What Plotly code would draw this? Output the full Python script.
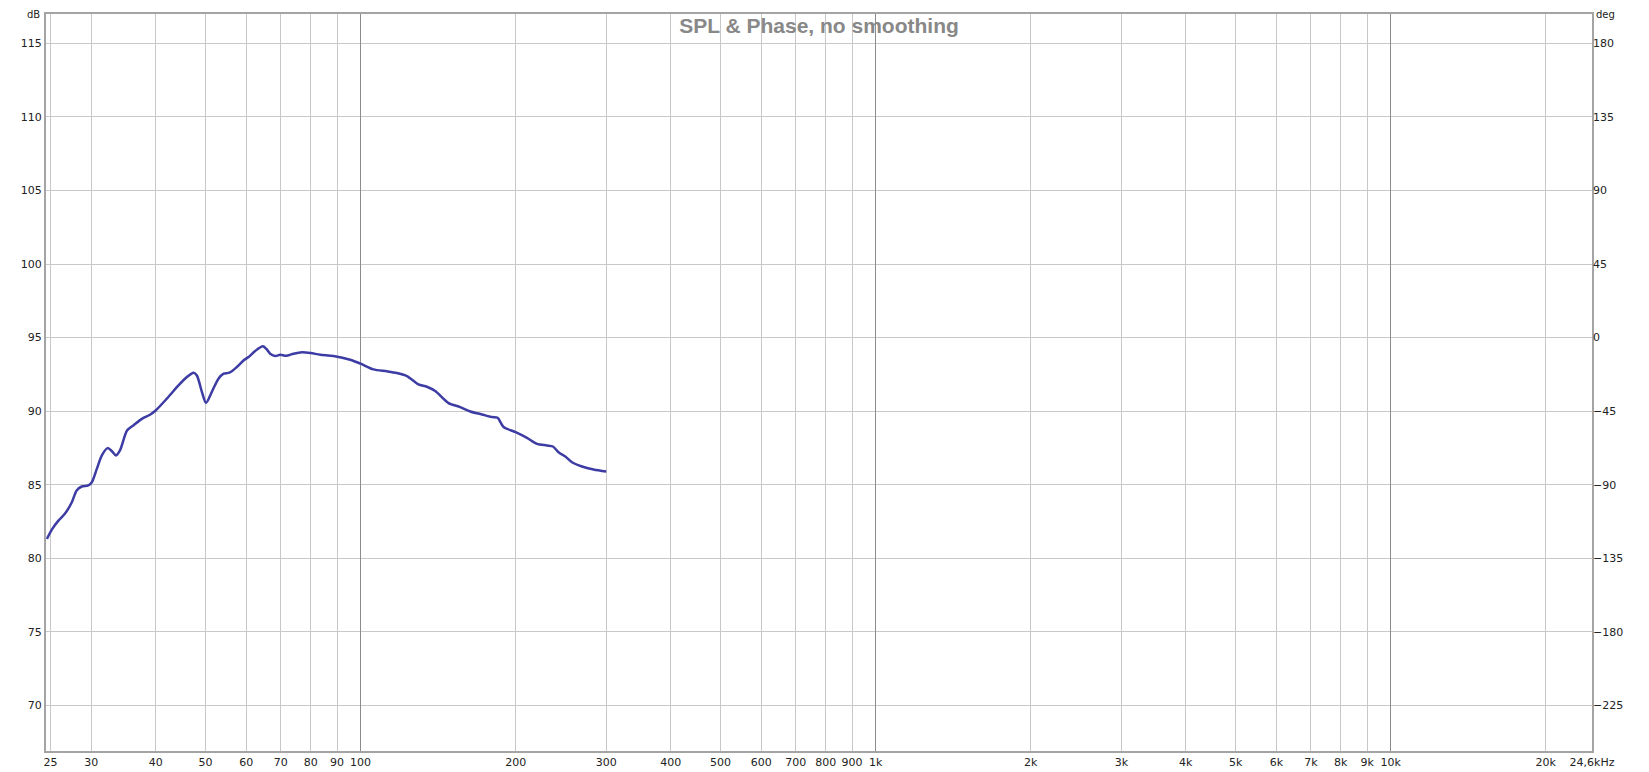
import math
import plotly.graph_objects as go

# ---- data ----
freq_hz = [24.6, 25.2, 25.9, 26.7, 27.5, 28.1, 28.75, 29.6, 30.07, 30.75, 31.45, 32.25,
           32.9, 33.5, 34.1, 35.2, 36.2, 37.6, 39.0, 40.0, 42.05, 44.3, 46.0, 47.4,
           48.1, 49.2, 50.1, 51.4, 52.97, 54.2, 55.65, 57.5, 59.25, 60.6, 62.4, 64.6,
           65.55, 66.75, 68.3, 69.8, 71.7, 74.1, 77.0, 80.0, 83.5, 88.6, 95.45, 100.0,
           105.9, 112.5, 117.6, 123.0, 129.5, 134.5, 139.6, 148.2, 156.1, 163.3, 172.0,
           179.9, 184.5, 189.5, 200.0, 210.4, 220.0, 230.0, 236.3, 242.3, 249.7, 257.3,
           269.1, 283.4, 300.0]
spl_db = [81.32, 82.0, 82.56, 83.06, 83.81, 84.61, 84.88, 84.95, 85.17, 86.08, 86.99, 87.49,
          87.28, 86.99, 87.33, 88.69, 89.03, 89.48, 89.76, 90.05, 90.85, 91.75, 92.32, 92.62,
          92.43, 91.3, 90.57, 91.3, 92.21, 92.55, 92.62, 93.0, 93.45, 93.68, 94.09, 94.41,
          94.25, 93.91, 93.75, 93.84, 93.77, 93.91, 94.0, 93.95, 93.84, 93.75, 93.5, 93.23,
          92.84, 92.71, 92.59, 92.39, 91.82, 91.66, 91.37, 90.55, 90.28, 89.98, 89.78,
          89.6, 89.55, 88.92, 88.58, 88.19, 87.78, 87.67, 87.6, 87.21, 86.92, 86.53,
          86.24, 86.04, 85.9]

x_tick_vals = [25, 30, 40, 50, 60, 70, 80, 90, 100, 200, 300, 400, 500, 600, 700, 800, 900,
               1000, 2000, 3000, 4000, 5000, 6000, 7000, 8000, 9000, 10000, 20000, 24600]
x_tick_text = ["25", "30", "40", "50", "60", "70", "80", "90", "100", "200", "300", "400",
               "500", "600", "700", "800", "900", "1k", "2k", "3k", "4k", "5k", "6k", "7k",
               "8k", "9k", "10k", "20k", "24,6kHz"]
decade_vals = [100, 1000, 10000]
db_ticks = [70, 75, 80, 85, 90, 95, 100, 105, 110, 115]
deg_ticks = [-225, -180, -135, -90, -45, 0, 45, 90, 135, 180]

x_range = [24.5, 24600]
db_range = [66.9, 117.0]
deg_range = [(db_range[0] - 95) * 9, (db_range[1] - 95) * 9]

xr = [math.log10(x_range[0]), math.log10(x_range[1])]

tick_font = dict(family="DejaVu Sans", size=11, color="#222222")
unit_font = dict(family="DejaVu Sans", size=10, color="#222222")

FIG_W, FIG_H = 1641, 764
M_L, M_R, M_T, M_B = 38, 57, 6, 21
plot_h = FIG_H - M_T - M_B

fig = go.Figure()
fig.add_trace(go.Scatter(x=freq_hz, y=spl_db, mode="lines",
                         line=dict(color="#3c3ca4", width=2.5, shape="spline", smoothing=0.8),
                         showlegend=False, xaxis="x", yaxis="y"))
# phase axis (no phase data shown)
fig.add_trace(go.Scatter(x=[], y=[], mode="lines", showlegend=False, xaxis="x", yaxis="y2"))
# decade grid overlay axis
fig.add_trace(go.Scatter(x=[], y=[], mode="lines", showlegend=False, xaxis="x2", yaxis="y"))

# page body has an 8px margin, so the figure is sized to end at the window edge
fig.update_layout(
    template="none",
    width=FIG_W, height=FIG_H,
    margin=dict(l=M_L, r=M_R, t=M_T, b=M_B, autoexpand=False),
    paper_bgcolor="white", plot_bgcolor="white",
    title=dict(text="<b>SPL & Phase, no smoothing</b>", x=0.5, xref="paper",
               y=1 - 18 / FIG_H, yref="container", xanchor="center", yanchor="middle",
               font=dict(family="Liberation Sans", size=21, color="#888888")),
    xaxis=dict(type="log", range=xr, tickmode="array", tickvals=x_tick_vals,
               ticktext=x_tick_text, showgrid=True, gridcolor="#c8c8c8", gridwidth=1,
               showline=True, linecolor="#a4a4a4", linewidth=2, mirror=True,
               ticks="", tickfont=tick_font, zeroline=False, automargin=False),
    xaxis2=dict(type="log", range=xr, overlaying="x", anchor="y", tickmode="array",
                tickvals=decade_vals, showticklabels=False, showgrid=True,
                gridcolor="#8c8c8c", gridwidth=1, showline=False, ticks="",
                zeroline=False, automargin=False),
    yaxis=dict(range=db_range, tickmode="array", tickvals=db_ticks, showgrid=True,
               gridcolor="#c8c8c8", gridwidth=1, showline=True, linecolor="#a4a4a4",
               linewidth=2, mirror=True, ticks="", tickfont=tick_font, zeroline=False,
               automargin=False),
    yaxis2=dict(range=deg_range, overlaying="y", side="right", tickmode="array",
                tickvals=deg_ticks, showgrid=False, showline=False, ticks="",
                tickfont=tick_font, zeroline=False, automargin=False),
    annotations=[
        dict(text="dB", xref="paper", yref="paper", x=0, y=1 + M_T / plot_h,
             xanchor="right", yanchor="top", xshift=-5, borderpad=0,
             showarrow=False, font=unit_font),
        dict(text="deg", xref="paper", yref="paper", x=1, y=1 + M_T / plot_h,
             xanchor="left", yanchor="top", xshift=3, borderpad=0,
             showarrow=False, font=unit_font),
    ],
)

fig.write_html("out.html")
